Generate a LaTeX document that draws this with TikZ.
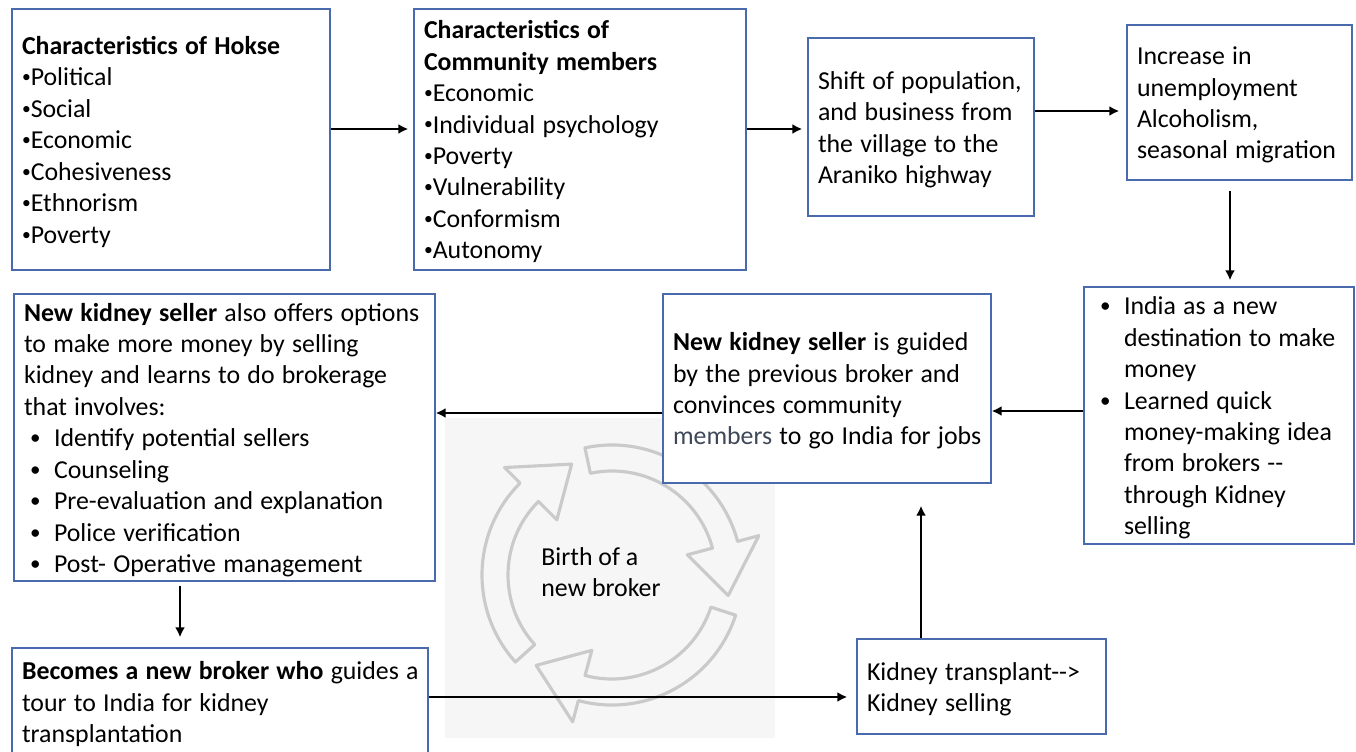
\documentclass[tikz,border=0pt]{standalone}
\usepackage{fontspec}
\setmainfont{Carlito}
\usepackage{tikz}
\usetikzlibrary{positioning,arrows.meta,calc}
\definecolor{boxblue}{HTML}{4A6AAE}
\definecolor{cycgray}{HTML}{CACACA}
\definecolor{bgpic}{HTML}{F6F6F6}
\definecolor{slate}{HTML}{3E4858}
% small bullet glued to the word, and bullet with hanging indent
\newcommand{\dt}{\raisebox{0.12em}{\fontsize{10}{12}\selectfont•}}
\newcommand{\bul}{\makebox[0.6cm][l]{\hspace{0.12cm}\raisebox{0.08em}{\fontsize{12}{14}\selectfont•}}}
\newcommand{\ind}{\hspace*{0.6cm}}
\newcommand{\rows}[1]{\raisebox{-0.06cm}[\height][\depth]{\spaceskip=0.28em plus 0.05em\begin{tabular}{@{}l@{}}#1\end{tabular}}}

\begin{document}
\begin{tikzpicture}[x=0.02cm,y=-0.02cm]
\tikzstyle{box}=[draw=boxblue, line width=0.8pt, fill=white, align=left, inner xsep=0.2cm, inner ysep=0pt, font=\fontsize{14.7}{17.9}\selectfont]
\tikzstyle{arr}=[line width=1.6pt, -{Latex[length=2mm,width=2mm]}]
\tikzstyle{cyc}=[draw=cycgray, line width=1.8pt, fill=bgpic!70!cycgray!40, line join=round]
\clip (0,0) rectangle (1356,751);
\fill[white] (0,0) rectangle (1356,751);
% faint picture behind the cycle
\fill[bgpic] (445,418) rectangle (775,738);
\begin{scope}[shift={(612,575)}]
\foreach \a in {138,258,18}{
  \pgfmathsetmacro{\b}{\a+87}
  \pgfmathsetmacro{\c}{\a+112}
  \draw[cyc] (\a:104) arc[start angle=\a, end angle=\b, radius=104] -- (\b:78) -- (\c:118) -- (\b:152) -- (\b:130) arc[start angle=\b, end angle=\a, radius=130] -- cycle;
}
\end{scope}
\node[font=\fontsize{14.7}{17.9}\selectfont, align=left] (birth) at (601,572) {Birth of a\\new broker};

% boxes
\node[box, text width=5.96cm, minimum height=5.22cm] (hokse) at (171,139.5) {\rows{\textbf{Characteristics of Hokse}\\\dt Political\\\dt Social\\\dt Economic\\\dt Cohesiveness\\\dt Ethnorism\\\dt Poverty}};
\node[box, text width=6.24cm, minimum height=5.22cm] (commun) at (580,139.5) {\rows{\textbf{Characteristics of}\\\textbf{Community members}\\\dt Economic\\\dt Individual psychology\\\dt Poverty\\\dt Vulnerability\\\dt Conformism\\\dt Autonomy}};
\node[box, text width=4.12cm, minimum height=3.56cm] (shift) at (921,127) {\rows{Shift of population,\\and business from\\the village to the\\Araniko highway}};
\node[box, text width=4.1cm, minimum height=3.1cm] (incr) at (1239.5,102.5) {\rows{Increase in\\unemployment\\Alcoholism,\\seasonal migration}};
\node[box, text width=5cm, minimum height=5.14cm] (india) at (1219,415.5) {\rows{\bul India as a new\\\ind destination to make\\\ind money\\\bul Learned quick\\\ind money-making idea\\\ind from brokers -{}-\\\ind through Kidney\\\ind selling}};
\node[box, text width=6.16cm, minimum height=3.78cm] (guided) at (827,388.5) {\rows{\textbf{New kidney seller} is guided\\by the previous broker and\\convinces community\\\textcolor{slate}{members} to go India for jobs}};
\node[box, text width=8.02cm, minimum height=5.74cm] (offers) at (224.5,437.5) {\rows{\textbf{New kidney seller} also offers options\\to make more money by selling\\kidney and learns to do brokerage\\that involves:\\\bul Identify potential sellers\\\bul Counseling\\\bul Pre-evaluation and explanation\\\bul Police verification\\\bul Post- Operative management}};
\node[box, text width=7.92cm, minimum height=2.16cm] (becomes) at (220,702) {\rows{\textbf{Becomes a new broker who} guides a\\tour to India for kidney\\transplantation}};
\node[box, text width=4.58cm, minimum height=1.9cm] (transp) at (981.5,686.5) {\rows{Kidney transplant-{}->\\Kidney selling}};

% connectors
\draw[arr, shorten >=0.1cm] ([yshift=0.21cm]hokse.east) -- ([yshift=0.21cm]hokse.east -| commun.west);
\draw[arr, shorten >=0.1cm] ([yshift=0.21cm]commun.east) -- ([yshift=0.21cm]commun.east -| shift.west);
\draw[arr, shorten >=0.14cm] ([yshift=0.32cm]shift.east) -- ([yshift=0.32cm]shift.east -| incr.west);
\draw[arr, shorten <=0.2cm, shorten >=0.12cm] ([xshift=-0.19cm]incr.south) -- ([xshift=-0.19cm]incr.south |- india.north);
\draw[arr] ([yshift=0.09cm]india.west) -- ([yshift=0.09cm]india.west -| guided.east);
\draw[arr] ([yshift=-0.49cm]guided.west) -- ([yshift=-0.49cm]guided.west -| offers.east);
\draw[arr, shorten <=0.08cm, shorten >=0.2cm] ([xshift=-0.89cm]offers.south) -- ([xshift=-0.89cm]offers.south |- becomes.north);
\draw[arr, shorten >=0.18cm] ([yshift=0.1cm]becomes.east) -- ([yshift=0.1cm]becomes.east -| transp.west);
\draw[arr, shorten >=0.44cm] ([xshift=-1.21cm]transp.north) -- ([xshift=-1.21cm]transp.north |- guided.south);
\end{tikzpicture}
\end{document}
